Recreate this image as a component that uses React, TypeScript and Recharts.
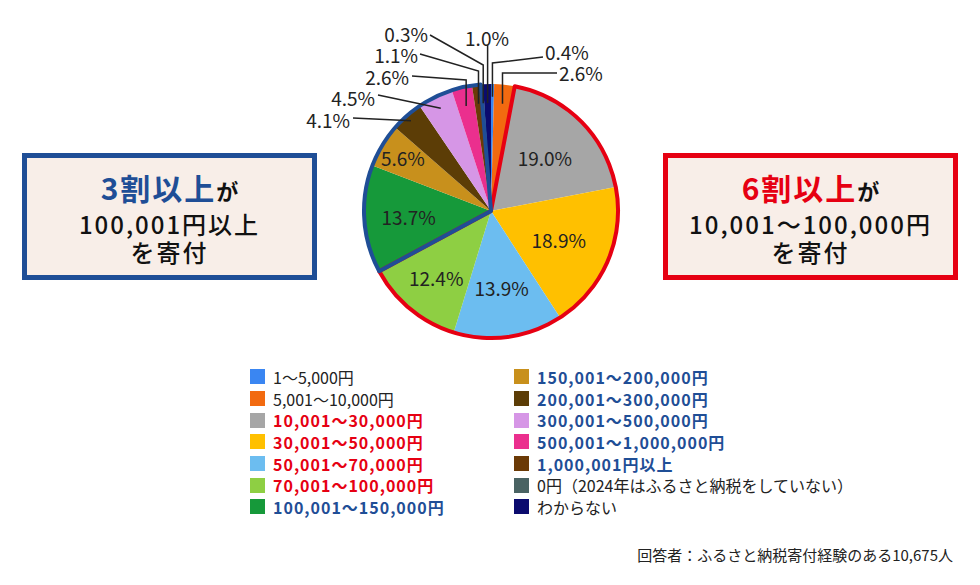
import React from "react";
import { PieChart, Pie, Cell } from "recharts";

const categories = [
  "1～5,000円",
  "5,001～10,000円",
  "10,001～30,000円",
  "30,001～50,000円",
  "50,001～70,000円",
  "70,001～100,000円",
  "100,001～150,000円",
  "150,001～200,000円",
  "200,001～300,000円",
  "300,001～500,000円",
  "500,001～1,000,000円",
  "1,000,001円以上",
  "0円（2024年はふるさと納税をしていない）",
  "わからない",
];
const shares = [0.4, 2.6, 19.0, 18.9, 13.9, 12.4, 13.7, 5.6, 4.1, 4.5, 2.6, 1.1, 0.3, 1.0];
const bands = ["low", "low", "mid", "mid", "mid", "mid", "high", "high", "high", "high", "high", "high", "other", "other"];
const sliceColors = [
  "#3a86f2", "#f26a10", "#a6a6a6", "#ffc000", "#6cbdf0", "#8ecf43", "#16993a",
  "#c8901c", "#5c3d06", "#d696e6", "#eb2f8e", "#6b3a06", "#4a6363", "#0b0b6e",
];

const RED = "#e60012";
const BLUE = "#1f4e96";
const INK = "#222";
const FONT = '"Noto Sans CJK JP", "Noto Sans", sans-serif';

const data = categories.map((name, i) => ({ name, value: shares[i], band: bands[i] }));

// consecutive runs of the same band -> outline sectors
const bandRuns: { band: string; value: number }[] = [];
data.forEach((d) => {
  const last = bandRuns[bandRuns.length - 1];
  if (last && last.band === d.band) last.value += d.value;
  else bandRuns.push({ band: d.band, value: d.value });
});
const outlineColor: Record<string, string> = { mid: RED, high: BLUE };

// label placement for the pie (radius factor for inside labels, callouts for small slices)
const insideR: Record<number, number> = { 2: 0.6, 3: 0.58, 4: 0.61, 5: 0.68, 6: 0.65, 7: 0.81 };
const callouts: Record<number, any> = {
  0: { r: 0.9, elbowDy: -148, end: [52, -154], text: [54, -160], anchor: "start" },
  1: { r: 0.85, elbowDy: -138, end: [66, -138], text: [68, -139], anchor: "start" },
  8: { r: 0.95, elbowDy: null, end: [-138, -93], text: [-141, -92], anchor: "end" },
  9: { r: 0.9, elbowDy: null, end: [-113, -116], text: [-116, -114], anchor: "end" },
  10: { r: 0.85, elbowDy: -131, end: [-79, -135], text: [-82, -135], anchor: "end" },
  11: { r: 0.85, elbowDy: -140, end: [-71, -157], text: [-73, -157], anchor: "end" },
  12: { r: 0.85, elbowDy: -146, end: [-61, -176], text: [-63, -178], anchor: "end" },
  13: { r: 0.85, elbowDy: -166, end: null, text: [-4, -174], anchor: "middle" },
};

const RAD = Math.PI / 180;

function renderLabel(props: any) {
  const { cx, cy, midAngle, outerRadius, index } = props;
  const txt = `${shares[index].toFixed(1)}%`;
  const style = { fontFamily: FONT, fontSize: 19, fill: INK };
  if (insideR[index] !== undefined) {
    const r = outerRadius * insideR[index];
    const x = cx + r * Math.cos(-midAngle * RAD);
    const y = cy + r * Math.sin(-midAngle * RAD);
    return (
      <text key={index} x={x} y={y} textAnchor="middle" dominantBaseline="central" style={style}>
        {txt}
      </text>
    );
  }
  const c = callouts[index];
  if (!c) return null;
  const sx = cx + outerRadius * c.r * Math.cos(-midAngle * RAD);
  const sy = cy + outerRadius * c.r * Math.sin(-midAngle * RAD);
  const pts: number[][] = [[sx, sy]];
  if (c.elbowDy !== null) pts.push([sx, cy + c.elbowDy]);
  if (c.end) pts.push([cx + c.end[0], cy + c.end[1]]);
  return (
    <g key={index}>
      <polyline points={pts.map((p) => p.join(",")).join(" ")} fill="none" stroke={INK} strokeWidth={1.5} />
      <text
        x={cx + c.text[0]}
        y={cy + c.text[1]}
        textAnchor={c.anchor}
        dominantBaseline="central"
        style={style}
      >
        {txt}
      </text>
    </g>
  );
}

function legendText(band: string) {
  if (band === "mid") return { color: RED, fontWeight: 700, letterSpacing: 1 };
  if (band === "high") return { color: BLUE, fontWeight: 700, letterSpacing: 1 };
  return { color: INK, fontWeight: 400, letterSpacing: 0 };
}

function LegendColumn({ from, to, left }: { from: number; to: number; left: number }) {
  return (
    <div style={{ position: "absolute", left, top: 366 }}>
      {data.slice(from, to).map((d, k) => (
        <div key={d.name} style={{ display: "flex", alignItems: "center", height: 21.7 }}>
          <span style={{ width: 15, height: 15, background: sliceColors[from + k], marginRight: 8 }} />
          <span style={{ fontSize: 16, whiteSpace: "nowrap", ...legendText(d.band) }}>{d.name}</span>
        </div>
      ))}
    </div>
  );
}

function Callout({ left, color, lead, lines }: { left: number; color: string; lead: string; lines: string[] }) {
  return (
    <div
      style={{
        position: "absolute",
        left,
        top: 153,
        width: 295,
        height: 127,
        boxSizing: "border-box",
        border: `5px solid ${color}`,
        background: "#f8eee8",
        display: "flex",
        flexDirection: "column",
        alignItems: "center",
        justifyContent: "center",
        color: "#111",
        paddingTop: 2,
      }}
    >
      <div style={{ lineHeight: "34px", fontWeight: 700, whiteSpace: "nowrap" }}>
        <span style={{ color, fontSize: 30, letterSpacing: 2 }}>{lead}</span>
        <span style={{ fontSize: 22 }}>が</span>
      </div>
      {lines.map((l) => (
        <div
          key={l}
          style={{ fontSize: 24, lineHeight: "28px", fontWeight: 500, letterSpacing: 2, whiteSpace: "nowrap" }}
        >
          {l}
        </div>
      ))}
    </div>
  );
}

export default function App() {
  return (
    <div
      style={{
        position: "absolute",
        left: 0,
        top: 0,
        width: 980,
        height: 585,
        background: "#fff",
        fontFamily: FONT,
        overflow: "hidden",
      }}
    >
      <div style={{ position: "absolute", left: 0, top: 0 }}>
        <PieChart width={980} height={360} margin={{ top: 0, right: 0, bottom: 0, left: 0 }}>
          <Pie
            data={data}
            dataKey="value"
            nameKey="name"
            cx={491}
            cy={211}
            outerRadius={127}
            startAngle={90}
            endAngle={-270}
            stroke="none"
            label={renderLabel}
            labelLine={false}
            isAnimationActive={false}
          >
            {data.map((d, i) => (
              <Cell key={d.name} fill={sliceColors[i]} />
            ))}
          </Pie>
          <Pie
            data={bandRuns}
            dataKey="value"
            cx={491}
            cy={211}
            outerRadius={127}
            startAngle={90}
            endAngle={-270}
            fill="none"
            isAnimationActive={false}
            label={false}
            labelLine={false}
          >
            {bandRuns.map((b, i) => (
              <Cell
                key={i}
                fill="none"
                stroke={outlineColor[b.band] || "none"}
                strokeWidth={outlineColor[b.band] ? 4 : 0}
                strokeLinejoin="round"
              />
            ))}
          </Pie>
        </PieChart>
      </div>

      <Callout left={22} color={BLUE} lead="3割以上" lines={["100,001円以上", "を寄付"]} />
      <Callout left={663} color={RED} lead="6割以上" lines={["10,001～100,000円", "を寄付"]} />

      <LegendColumn from={0} to={7} left={250} />
      <LegendColumn from={7} to={14} left={514} />

      <div style={{ position: "absolute", right: 27, top: 544, fontSize: 15, color: INK, whiteSpace: "nowrap" }}>
        回答者：ふるさと納税寄付経験のある10,675人
      </div>
    </div>
  );
}
